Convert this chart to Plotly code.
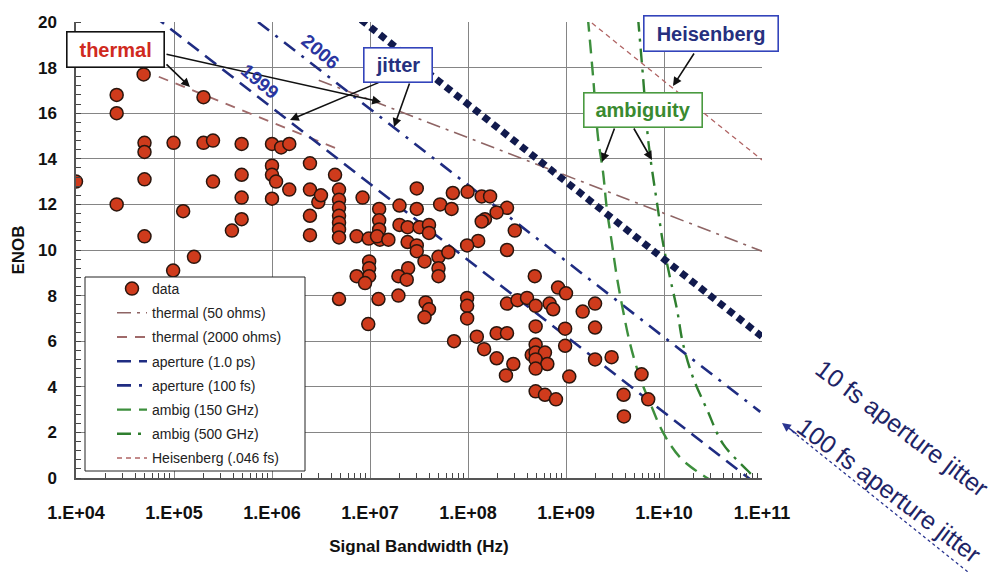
import plotly.graph_objects as go

# ---------------- measured converters ----------------
data_bw = [
    1.0e4, 2.6e4, 2.6e4, 2.6e4, 4.9e4, 5.0e4, 5.0e4, 5.0e4, 5.0e4, 9.9e4,
    9.8e4, 1.6e5, 1.24e5, 2.0e5, 2.0e5, 2.5e5, 2.5e5, 4.9e5, 4.9e5, 4.9e5,
    4.9e5, 3.9e5, 1.0e6, 1.24e6, 1.5e6, 1.0e6, 1.0e6, 1.1e6, 1.0e6, 1.5e6,
    2.44e6, 2.44e6, 2.97e6, 3.16e6, 2.44e6, 2.44e6, 4.4e6, 4.83e6, 4.83e6, 4.83e6,
    4.83e6, 4.83e6, 4.83e6, 4.83e6, 4.83e6, 8.4e6, 7.3e6, 9.7e6, 1.24e7, 1.24e7,
    1.24e7, 1.26e7, 1.18e7, 1.54e7, 2.0e7, 2.0e7, 2.42e7, 3.0e7, 3.0e7, 3.2e7,
    4.0e7, 4.0e7, 2.42e7, 3.0e7, 3.0e7, 5.2e7, 3.6e7, 5.0e7, 5.0e7, 5.0e7,
    6.3e7, 2.45e7, 1.95e7, 2.37e7, 9.8e6, 9.8e6, 9.8e6, 7.3e6, 8.9e6, 1.22e7,
    1.95e7, 9.6e6, 3.7e7, 4.0e7, 3.6e7, 7.0e7, 9.9e7, 1.38e8, 1.68e8, 6.8e7,
    2.5e8, 1.96e8, 1.49e8, 1.38e8, 3.0e8, 1.27e8, 9.8e7, 2.5e8, 4.8e8, 8.3e8,
    1.0e9, 9.8e7, 9.8e7, 9.8e7, 2.5e8, 3.2e8, 4.0e8, 4.9e8, 6.8e8, 7.4e8,
    1.48e9, 1.98e9, 1.98e9, 9.8e8, 4.9e8, 7.2e7, 1.23e8, 1.96e8, 2.5e8, 1.46e8,
    1.96e8, 2.9e8, 2.44e8, 4.9e8, 4.47e8, 4.9e8, 6.1e8, 4.9e8, 6.45e8, 4.9e8,
    9.8e8, 1.08e9, 1.98e9, 2.92e9, 5.9e9, 4.9e8, 6.1e8, 7.9e8, 3.87e9, 6.9e9,
    3.9e9,
]
data_enob = [
    13.0, 16.8, 16.0, 12.0, 17.7, 14.7, 14.3, 13.1, 10.6, 14.7,
    9.1, 9.7, 11.7, 16.7, 14.7, 14.8, 13.0, 14.65, 13.3, 12.3,
    11.35, 10.85, 14.65, 14.5, 14.65, 13.7, 13.3, 13.0, 12.25, 12.65,
    13.8, 12.65, 12.1, 12.4, 11.5, 10.65, 13.3, 12.65, 12.2, 11.85,
    11.5, 11.2, 10.9, 10.55, 7.85, 12.3, 10.6, 10.5, 11.8, 11.3,
    10.9, 10.45, 10.6, 10.45, 11.95, 11.1, 11.0, 11.8, 12.7, 11.0,
    11.1, 10.75, 10.35, 10.2, 9.95, 12.0, 9.5, 9.7, 9.2, 8.85,
    9.9, 9.2, 8.85, 8.7, 9.5, 9.2, 8.85, 8.85, 8.55, 7.85,
    8.0, 6.75, 7.7, 7.4, 7.05, 12.5, 12.55, 12.35, 12.35, 11.8,
    11.85, 11.65, 11.35, 11.25, 10.85, 10.4, 10.2, 10.0, 8.85, 8.35,
    8.1, 7.9, 7.55, 7.0, 7.65, 7.8, 7.9, 7.55, 7.65, 7.4,
    7.3, 7.65, 6.6, 6.55, 6.65, 6.0, 6.2, 6.35, 6.35, 5.65,
    5.25, 5.0, 4.5, 5.85, 5.4, 5.5, 5.5, 5.2, 5.0, 4.8,
    5.8, 4.45, 5.2, 5.3, 4.55, 3.8, 3.65, 3.45, 3.65, 3.45,
    2.7,
]

# ---------------- limit curves (bandwidth Hz, ENOB) ----------------
thermal50_bw, thermal50_enob = [3.0e6, 1.0e11], [17.45, 9.95]
thermal2000_bw, thermal2000_enob = [7.0e4, 4.9e6], [17.6, 14.4]
aperture1ps_bw, aperture1ps_enob = [6.1e4, 9.6e10], [20.3, -0.4]
aperture100fs_bw, aperture100fs_enob = [7.2e5, 9.6e10], [20.0, 2.9]
aperture10fs_bw, aperture10fs_enob = [8.1e6, 1.0e11], [20.1, 6.2]
heisenberg_bw, heisenberg_enob = [1.56e9, 1.0e11], [20.2, 13.95]
ambig150_bw = [1.67e9, 1.89e9, 2.12e9, 2.39e9, 2.62e9, 2.94e9, 3.31e9, 3.82e9,
               4.5e9, 5.69e9, 7.2e9, 9.77e9, 1.46e10, 2.33e10, 4.0e10]
ambig150_enob = [20.2, 17.6, 14.95, 13.4, 11.75, 10.3, 8.8, 7.35,
                 5.9, 4.4, 3.3, 2.0, 0.9, 0.2, -0.4]
ambig500_bw = [5.43e9, 6.11e9, 6.95e9, 8.7e9, 9.77e9, 1.15e10, 1.36e10, 1.56e10,
               1.98e10, 2.75e10, 4.0e10, 7.03e10, 9.55e10]
ambig500_enob = [20.2, 17.6, 14.7, 11.75, 10.3, 8.8, 7.37, 5.9,
                 4.4, 3.0, 1.5, 0.35, -0.2]

x_tickvals = [1e4, 1e5, 1e6, 1e7, 1e8, 1e9, 1e10, 1e11]
x_ticktext = ["1.E+04", "1.E+05", "1.E+06", "1.E+07", "1.E+08", "1.E+09", "1.E+10", "1.E+11"]
y_tickvals = [0, 2, 4, 6, 8, 10, 12, 14, 16, 18, 20]

# ---------------- page geometry ----------------
W, H = 999, 572
L, R, T, B = 76, 762, 22, 478


def px(xp, yp):
    """pixel position on the page -> paper coordinates"""
    return (xp - L) / (R - L), (B - yp) / (B - T)


FONT = "Arial, Liberation Sans, Helvetica, sans-serif"
NAVY = "#1f2c82"

fig = go.Figure()

line_specs = [
    ("thermal (50 ohms)", thermal50_bw, thermal50_enob, "#8e6464", 1.6, "14px,6px,3px,6px", 2),
    ("thermal (2000 ohms)", thermal2000_bw, thermal2000_enob, "#a06a6a", 1.8, "10px,8px", 3),
    ("aperture (1.0 ps)", aperture1ps_bw, aperture1ps_enob, NAVY, 2.6, "14px,8px", 4),
    ("aperture (100 fs)", aperture100fs_bw, aperture100fs_enob, NAVY, 2.6, "14px,8px,3px,8px", 5),
    ("ambig (150 GHz)", ambig150_bw, ambig150_enob, "#3d8f3d", 2.4, "14px,8px", 6),
    ("ambig (500 GHz)", ambig500_bw, ambig500_enob, "#2f7f2f", 2.4, "14px,7px,3px,7px", 7),
    ("Heisenberg (.046 fs)", heisenberg_bw, heisenberg_enob, "#b06464", 1.3, "5px,4px", 8),
]
for name, xs, ys, color, width, dash, rank in line_specs:
    shape = "spline" if name.startswith("ambig") else "linear"
    fig.add_trace(go.Scatter(
        x=xs, y=ys, mode="lines", name=name, legendgroup=name, legendrank=rank,
        line=dict(color=color, width=width, dash=dash, shape=shape),
        hoverinfo="skip",
    ))

# 10 fs aperture jitter bound (no legend entry)
fig.add_trace(go.Scatter(
    x=aperture10fs_bw, y=aperture10fs_enob, mode="lines", showlegend=False,
    line=dict(color="#111a4d", width=7, dash="7px,5px"), hoverinfo="skip",
))

fig.add_trace(go.Scatter(
    x=data_bw, y=data_enob, mode="markers", name="data", legendgroup="data", legendrank=1,
    marker=dict(size=13, color="#cf3b1c", line=dict(color="#2a160e", width=1.5)),
))

# legend frame
lx0, ly0 = px(85, 277)
lx1, ly1 = px(305, 471)
shapes = [
    dict(type="rect", xref="paper", yref="paper", x0=lx0, y0=ly1, x1=lx1, y1=ly0,
         fillcolor="white", line=dict(color="#222", width=1), layer="above"),
]
# dotted leader of the 100 fs note
sx0, sy0 = px(792, 431)
sx1, sy1 = px(968, 572)
shapes.append(dict(type="line", xref="paper", yref="paper", x0=sx0, y0=sy0, x1=sx1, y1=sy1,
                   line=dict(color="#2a3590", width=1.3, dash="dot")))

annotations = []


def box(text, cx, cy, w, h, color, border):
    x, y = px(cx, cy)
    annotations.append(dict(
        text=f"<b>{text}</b>", x=x, y=y, xref="paper", yref="paper", showarrow=False,
        font=dict(family=FONT, size=20, color=color), bgcolor="white",
        bordercolor=border, borderwidth=1.6, width=w, height=h, borderpad=0,
        xanchor="center", yanchor="middle",
    ))


def arrow(tail, head, color="#111"):
    x, y = px(*head)
    annotations.append(dict(
        text="", x=x, y=y, xref="paper", yref="paper", showarrow=True,
        ax=tail[0] - head[0], ay=tail[1] - head[1],
        arrowhead=2, arrowsize=1.1, arrowwidth=1.6, arrowcolor=color,
    ))


def label(text, cx, cy, size, color, angle, bold=True):
    x, y = px(cx, cy)
    t = f"<b>{text}</b>" if bold else text
    annotations.append(dict(
        text=t, x=x, y=y, xref="paper", yref="paper", showarrow=False,
        font=dict(family=FONT, size=size, color=color), textangle=angle,
        xanchor="center", yanchor="middle",
    ))


arrow((165, 54), (381, 102))
arrow((165, 63), (190, 87))
arrow((380, 82), (290, 120))
arrow((410, 82), (394, 127))
arrow((695, 52), (673, 86))
arrow((615, 127), (602, 162))
arrow((633, 127), (652, 160))
arrow((798, 435), (782, 423), color="#2a3590")

box("thermal", 115, 50, 96, 34, "#d02a20", "#111")
box("jitter", 397.5, 64.5, 67, 33, "#26307f", "#3344bb")
box("Heisenberg", 710.5, 34, 133, 34, "#26307f", "#3344bb")
box("ambiguity", 642.5, 109.5, 117, 33, "#3a8a30", "#4a9a40")

label("1999", 260, 81, 19, "#2a35a0", 40)
label("2006", 320, 52, 19, "#2a35a0", 40)
label("10 fs aperture jitter", 902, 428, 25, "#1e2466", 37, bold=False)
label("100 fs aperture jitter", 889, 490, 25, "#1e2466", 37, bold=False)

minor_x = [m * 10 ** e for e in range(4, 11) for m in range(2, 10)]

fig.update_layout(
    width=W, height=H,
    margin=dict(l=L, r=W - R, t=T, b=H - B, autoexpand=False),
    paper_bgcolor="white", plot_bgcolor="white",
    font=dict(family=FONT, color="#111"),
    showlegend=True,
    legend=dict(
        x=px(112, 0)[0], y=px(0, 273)[1], xanchor="left", yanchor="top",
        bgcolor="rgba(0,0,0,0)", borderwidth=0, tracegroupgap=3,
        font=dict(family=FONT, size=14, color="#222"),
    ),
    shapes=shapes,
    annotations=annotations,
    xaxis=dict(
        type="log", range=[4, 11], tickmode="array", tickvals=x_tickvals, ticktext=x_ticktext,
        showgrid=True, gridcolor="#858585", gridwidth=1, zeroline=False,
        showline=True, linecolor="#555", linewidth=1.5, ticks="",
        tickfont=dict(family=FONT, size=18, color="#111", weight="bold"),
        ticklabelstandoff=18,
        minor=dict(ticks="inside", ticklen=5, tickcolor="#444", tickwidth=1, tickmode="array",
                   tickvals=minor_x, showgrid=False),
        title=dict(text="<b>Signal Bandwidth (Hz)</b>", font=dict(family=FONT, size=17, color="#111"),
                   standoff=18),
        automargin=False,
    ),
    yaxis=dict(
        range=[0, 20], tickmode="array", tickvals=y_tickvals,
        showgrid=True, gridcolor="#858585", gridwidth=1, zeroline=False,
        showline=True, linecolor="#555", linewidth=1.5, ticks="",
        tickfont=dict(family=FONT, size=17, color="#111", weight="bold"),
        ticklabelstandoff=14,
        minor=dict(ticks="inside", ticklen=5, tickcolor="#444", tickwidth=1, dtick=0.4, showgrid=False),
        title=dict(text="<b>ENOB</b>", font=dict(family=FONT, size=17, color="#111"), standoff=9),
        automargin=False,
    ),
)

fig.write_html("out.html")
